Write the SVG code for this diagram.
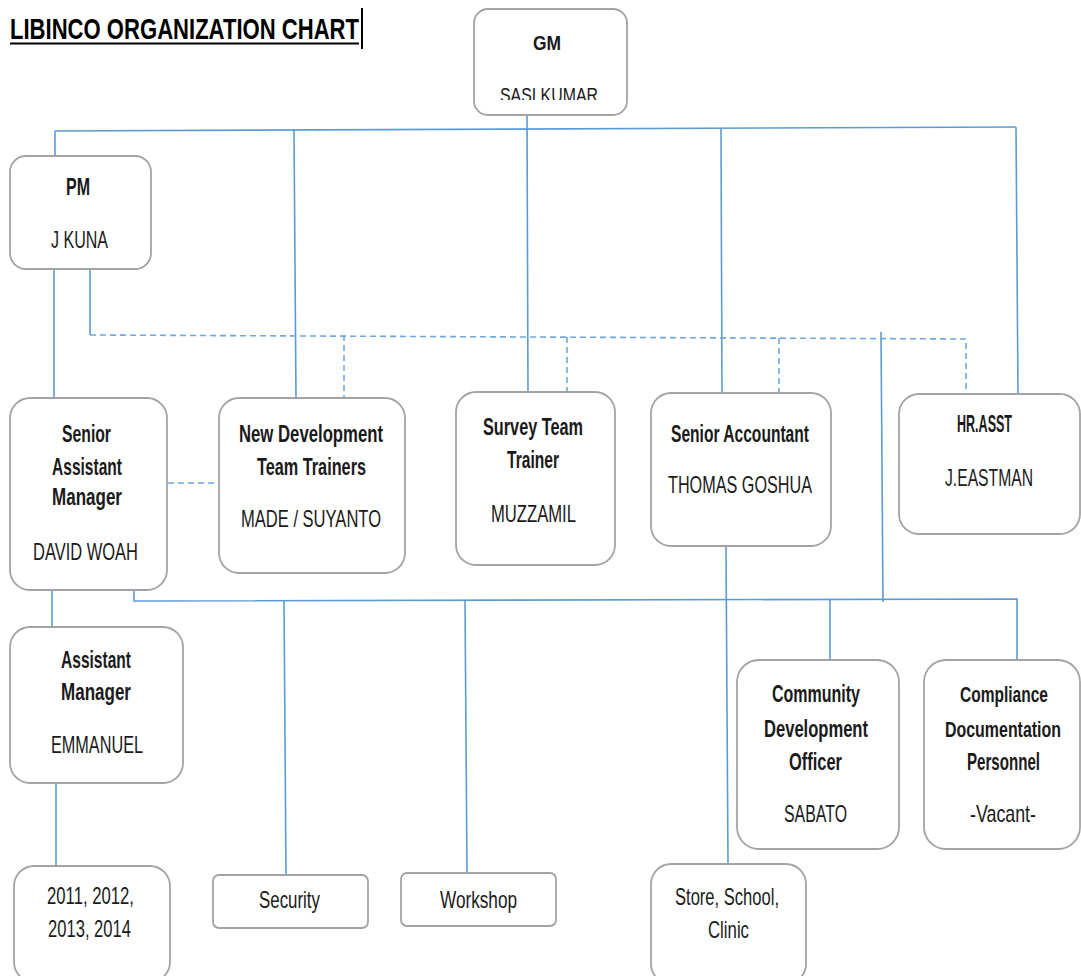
<svg xmlns="http://www.w3.org/2000/svg" width="1081" height="976" viewBox="0 0 1081 976">
<style>
  .box{fill:#fff;stroke:#a3a3a3;stroke-width:1.8}
  .ln{fill:none;stroke:#5b9bd5;stroke-width:1.6}
  .ds{fill:none;stroke:#6fa8dc;stroke-width:1.6;stroke-dasharray:6 4}
  text{font-family:"Liberation Sans Narrow","Liberation Sans",Arial,sans-serif;fill:#1a1a1a;text-anchor:middle}
  .b{font-weight:bold;font-size:24px}
  .r{font-size:24px}
  .s{font-size:22px}
  .t{font-weight:bold;font-size:30px;fill:#000;text-anchor:start}
</style>
<defs>
  <clipPath id="gmclip"><rect x="474" y="60" width="153" height="40"/></clipPath>
</defs>
<rect width="1081" height="976" fill="#fff"/>

<g id="title">
  <text class="t" x="10" y="39" textLength="349" lengthAdjust="spacingAndGlyphs">LIBINCO ORGANIZATION CHART</text>
  <line x1="10" y1="43.5" x2="359" y2="43.5" stroke="#000" stroke-width="2"/>
  <line x1="362" y1="8" x2="362" y2="49" stroke="#000" stroke-width="2"/>
</g>

<g id="connectors">
  <line class="ln" x1="55" y1="131" x2="1016" y2="127"/>
  <line class="ln" x1="55" y1="131" x2="55" y2="157"/>
  <line class="ln" x1="294" y1="130" x2="296" y2="398"/>
  <line class="ln" x1="527" y1="115" x2="528" y2="392"/>
  <line class="ln" x1="721" y1="129" x2="722" y2="394"/>
  <line class="ln" x1="1016" y1="127" x2="1018" y2="394"/>
  <line class="ln" x1="54" y1="268" x2="54" y2="398"/>
  <line class="ln" x1="90" y1="268" x2="90" y2="335"/>
  <line class="ln" x1="881" y1="332" x2="883" y2="602"/>
  <polyline class="ln" points="134,590 134,601 1017,599 1017,660"/>
  <line class="ln" x1="284" y1="600" x2="286" y2="876"/>
  <line class="ln" x1="465" y1="600" x2="467" y2="873"/>
  <line class="ln" x1="726" y1="546" x2="728" y2="864"/>
  <line class="ln" x1="830" y1="600" x2="830" y2="660"/>
  <line class="ln" x1="52" y1="590" x2="52" y2="627"/>
  <line class="ln" x1="56" y1="783" x2="56" y2="866"/>
  <polyline class="ds" points="90,335 966,339 966,390"/>
  <line class="ds" x1="344" y1="335" x2="344" y2="398"/>
  <line class="ds" x1="567" y1="337" x2="567" y2="391"/>
  <line class="ds" x1="779" y1="338" x2="779" y2="393"/>
  <line class="ds" x1="168" y1="483" x2="219" y2="483"/>
</g>

<g id="gm">
  <rect class="box" x="474" y="9" width="153" height="106" rx="14"/>
  <text style="font-weight:bold;font-size:20px" x="547" y="50" textLength="28" lengthAdjust="spacingAndGlyphs">GM</text>
  <text style="font-size:20px" x="549" y="102" textLength="98" lengthAdjust="spacingAndGlyphs" clip-path="url(#gmclip)">SASI KUMAR</text>
</g>

<g id="pm">
  <rect class="box" x="10" y="156" width="141" height="113" rx="16"/>
  <text class="b" x="78" y="195" textLength="24" lengthAdjust="spacingAndGlyphs">PM</text>
  <text class="r" x="79.5" y="248" textLength="57" lengthAdjust="spacingAndGlyphs">J KUNA</text>
</g>

<g id="senior-assistant-manager">
  <rect class="box" x="10" y="398" width="157" height="192" rx="20"/>
  <text class="b" x="86.5" y="442" textLength="49" lengthAdjust="spacingAndGlyphs">Senior</text>
  <text class="b" x="87" y="475" textLength="70" lengthAdjust="spacingAndGlyphs">Assistant</text>
  <text class="b" x="87" y="505" textLength="70" lengthAdjust="spacingAndGlyphs">Manager</text>
  <text class="r" x="85.5" y="560" textLength="105" lengthAdjust="spacingAndGlyphs">DAVID WOAH</text>
</g>

<g id="new-development">
  <rect class="box" x="219" y="398" width="186" height="175" rx="20"/>
  <text class="b" x="311" y="442" textLength="144" lengthAdjust="spacingAndGlyphs">New Development</text>
  <text class="b" x="311.5" y="475" textLength="109" lengthAdjust="spacingAndGlyphs">Team Trainers</text>
  <text class="r" x="311" y="527" textLength="140" lengthAdjust="spacingAndGlyphs">MADE / SUYANTO</text>
</g>

<g id="survey-team">
  <rect class="box" x="456" y="392" width="159" height="173" rx="20"/>
  <text class="b" x="533" y="435" textLength="100" lengthAdjust="spacingAndGlyphs">Survey Team</text>
  <text class="b" x="533" y="468" textLength="52" lengthAdjust="spacingAndGlyphs">Trainer</text>
  <text class="r" x="533.5" y="522" textLength="85" lengthAdjust="spacingAndGlyphs">MUZZAMIL</text>
</g>

<g id="senior-accountant">
  <rect class="box" x="651" y="393" width="180" height="153" rx="20"/>
  <text class="b" x="740" y="442" textLength="138" lengthAdjust="spacingAndGlyphs">Senior Accountant</text>
  <text class="r" x="740" y="493" textLength="144" lengthAdjust="spacingAndGlyphs">THOMAS GOSHUA</text>
</g>

<g id="hr-asst">
  <rect class="box" x="899" y="394" width="181" height="140" rx="20"/>
  <text class="b" x="984.5" y="432" textLength="55" lengthAdjust="spacingAndGlyphs">HR.ASST</text>
  <text class="r" x="989" y="486" textLength="88" lengthAdjust="spacingAndGlyphs">J.EASTMAN</text>
</g>

<g id="assistant-manager">
  <rect class="box" x="10" y="627" width="173" height="156" rx="20"/>
  <text class="b" x="96" y="668" textLength="70" lengthAdjust="spacingAndGlyphs">Assistant</text>
  <text class="b" x="96" y="700" textLength="70" lengthAdjust="spacingAndGlyphs">Manager</text>
  <text class="r" x="97" y="753" textLength="92" lengthAdjust="spacingAndGlyphs">EMMANUEL</text>
</g>

<g id="years">
  <rect class="box" x="14" y="866" width="156" height="116" rx="20"/>
  <text class="r" x="90.5" y="904" textLength="87" lengthAdjust="spacingAndGlyphs">2011, 2012,</text>
  <text class="r" x="89.5" y="937" textLength="83" lengthAdjust="spacingAndGlyphs">2013, 2014</text>
</g>

<g id="security">
  <rect class="box" x="213" y="875" width="155" height="53" rx="6"/>
  <text class="r" x="289.5" y="908" textLength="61" lengthAdjust="spacingAndGlyphs">Security</text>
</g>

<g id="workshop">
  <rect class="box" x="401" y="873" width="155" height="53" rx="6"/>
  <text class="r" x="478.5" y="908" textLength="77" lengthAdjust="spacingAndGlyphs">Workshop</text>
</g>

<g id="store-school-clinic">
  <rect class="box" x="651" y="864" width="155" height="120" rx="20"/>
  <text class="r" x="727" y="905" textLength="104" lengthAdjust="spacingAndGlyphs">Store, School,</text>
  <text class="r" x="728.5" y="938" textLength="41" lengthAdjust="spacingAndGlyphs">Clinic</text>
</g>

<g id="community-development-officer">
  <rect class="box" x="737" y="660" width="162" height="189" rx="22"/>
  <text class="b" x="816" y="702" textLength="88" lengthAdjust="spacingAndGlyphs">Community</text>
  <text class="b" x="816" y="737" textLength="104" lengthAdjust="spacingAndGlyphs">Development</text>
  <text class="b" x="815.5" y="770" textLength="53" lengthAdjust="spacingAndGlyphs">Officer</text>
  <text class="r" x="815.5" y="822" textLength="63" lengthAdjust="spacingAndGlyphs">SABATO</text>
</g>

<g id="compliance-documentation-personnel">
  <rect class="box" x="924" y="660" width="156" height="189" rx="22"/>
  <text class="b s" x="1004" y="702" textLength="88" lengthAdjust="spacingAndGlyphs">Compliance</text>
  <text class="b s" x="1003" y="737" textLength="116" lengthAdjust="spacingAndGlyphs">Documentation</text>
  <text class="b" x="1003.5" y="770" textLength="73" lengthAdjust="spacingAndGlyphs">Personnel</text>
  <text class="r" x="1003" y="822" textLength="66" lengthAdjust="spacingAndGlyphs">-Vacant-</text>
</g>
</svg>
